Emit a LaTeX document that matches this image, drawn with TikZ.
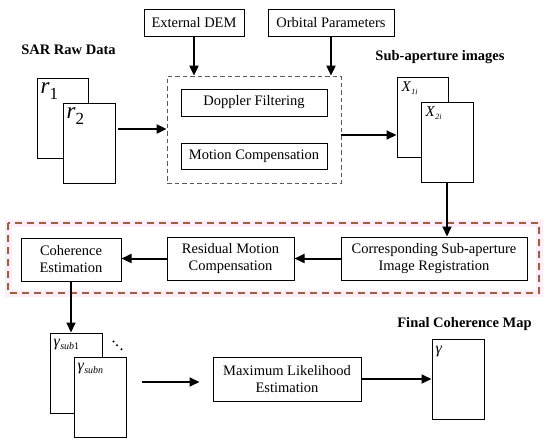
\documentclass[tikz,border=0pt]{standalone}
\usepackage{fontspec}
\setmainfont{Liberation Serif}
\usetikzlibrary{arrows.meta}
\definecolor{glow}{HTML}{FDEDF8}
\definecolor{brownd}{HTML}{9A6040}
\begin{document}
\begin{tikzpicture}[x=1pt,y=-1pt,
  box/.style={draw, line width=1pt, inner sep=0pt, font=\fontsize{14.5}{17}\selectfont, align=center},
  page/.style={draw, line width=1pt, fill=white, inner sep=0pt, minimum width=52pt, minimum height=80pt},
  arr/.style={-{Triangle[length=10pt,width=9pt]}, line width=2pt},
  lbl/.style={font=\fontsize{14.5}{17}\selectfont\bfseries, inner sep=0pt},
  intext/.style={anchor=north west, inner sep=0pt}]
\useasboundingbox (0,0) rectangle (550,445);
\fill[white] (0,0) rectangle (550,445);

% top inputs
\node[box, minimum width=100pt, minimum height=27pt] (dem) at (194,22.5) {External DEM};
\node[box, minimum width=126pt, minimum height=27pt] (orb) at (331,22.5) {Orbital Parameters};

% dashed processing box
\node[draw=black!65, dash pattern=on 4.5pt off 3pt, line width=0.8pt, minimum width=174pt, minimum height=107pt, inner sep=0pt] (dbox) at (254,129.5) {};
\node[box, minimum width=146pt, minimum height=27pt] (dop) at (254,102.5) {Doppler Filtering};
\node[box, minimum width=146pt, minimum height=26pt] (mc) at (254,156) {Motion Compensation};

% SAR raw data
\node[lbl] (sar) at (68.5,50) {SAR Raw Data};
\node[page, minimum width=51pt] (r1) at (62.5,118) {};
\node[intext] (r1t) at ([xshift=4pt,yshift=-5pt]r1.north west) {\fontsize{23}{23}\selectfont\textit{r}\raisebox{-6pt}{\fontsize{17}{17}\selectfont 1}};
\node[page] (r2) at (89,143) {};
\node[intext] (r2t) at ([xshift=4pt,yshift=-5pt]r2.north west) {\fontsize{23}{23}\selectfont\textit{r}\raisebox{-6pt}{\fontsize{17}{17}\selectfont 2}};

% sub-aperture images
\node[lbl] (subl) at (440,57) {Sub-aperture images};
\node[page, minimum width=51pt] (x1) at (422.5,117) {};
\node[intext] (x1t) at ([xshift=5pt,yshift=-5pt]x1.north west) {\fontsize{15}{15}\selectfont\textit{X}\raisebox{-3pt}{\fontsize{8}{8}\selectfont\textit{1i}}};
\node[page] (x2) at (447,142) {};
\node[intext] (x2t) at ([xshift=5pt,yshift=-5pt]x2.north west) {\fontsize{15}{15}\selectfont\textit{X}\raisebox{-3pt}{\fontsize{8}{8}\selectfont\textit{2i}}};

% red dashed group
\draw[glow, line width=7pt] (8,223) rectangle (539,293);
\draw[brownd, line width=1.3pt, dash pattern=on 7pt off 5pt] (8,223) rectangle (539,293);
\node[box, minimum width=186pt, minimum height=43pt] (corr) at (434,258.5) {Corresponding Sub-aperture\\Image Registration};
\node[box, minimum width=127pt, minimum height=43pt] (res) at (230.5,258.5) {Residual Motion\\Compensation};
\node[box, minimum width=100pt, minimum height=43pt] (coh) at (71,259.5) {Coherence\\Estimation};

% coherence stacks
\node[page] (g1) at (76,373) {};
\node[intext] (g1t) at ([xshift=4pt,yshift=-6pt]g1.north west) {\fontsize{16}{16}\selectfont\textit{γ}\raisebox{-3pt}{\fontsize{10}{10}\selectfont\textit{sub}1}};
\node[page] (gn) at (100,397) {};
\node[intext] (gnt) at ([xshift=4pt,yshift=-6pt]gn.north west) {\fontsize{16}{16}\selectfont\textit{γ}\raisebox{-3pt}{\fontsize{10}{10}\selectfont\textit{subn}}};
\fill (113.5,341.5) circle (1.1pt) (117,345.3) circle (1.1pt) (121.5,349.3) circle (1.1pt);

\node[box, minimum width=148pt, minimum height=44pt] (ml) at (287,379) {Maximum Likelihood\\Estimation};

\node[lbl] (finl) at (464.5,324) {Final Coherence Map};
\node[page] (gf) at (458,379) {};
\node[intext] (gft) at ([xshift=4pt,yshift=-7pt]gf.north west) {\fontsize{16}{16}\selectfont\textit{γ}};

% connectors
\draw[arr] (dem.south) -- (dem.south |- dbox.north);
\draw[arr] (orb.south) -- (orb.south |- dbox.north);
\draw[arr] ([xshift=2pt,yshift=14pt]r2.east) coordinate (a0) -- (a0 -| dbox.west);
\draw[arr] ([yshift=-5.5pt]dbox.east) coordinate (a1) -- (a1 -| x1.west);
\draw[arr] (x2.south) -- (x2.south |- corr.north);
\draw[arr] (corr.west) -- (res.east);
\draw[arr] (res.west) -- (res.west -| coh.east);
\draw[arr] (coh.south) -- (coh.south |- g1.north);
\draw[arr] ([xshift=15pt,yshift=15pt]gn.east) coordinate (a2) -- ([xshift=-13pt]a2 -| ml.west);
\draw[arr] (ml.east) -- (ml.east -| gf.west);
\end{tikzpicture}
\end{document}
